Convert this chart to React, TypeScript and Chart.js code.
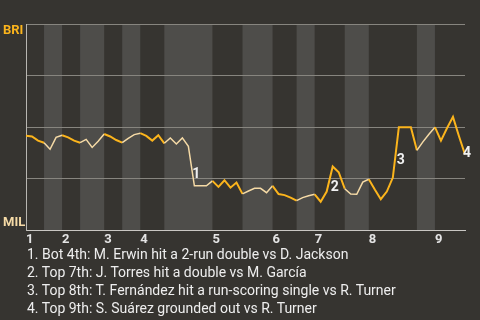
import React, { useEffect, useRef } from "react";
import { Chart, registerables } from "chart.js";

Chart.register(...registerables);

// BRI win probability (%) after each plate appearance (index 0 = game start)
const briWinProb = [
  45.8, 45.5, 43.5, 42.5, 39.3, 45.1, 46.1, 45.1, 43.5, 42.5,
  44.1, 40.2, 43.2, 46.7, 45.5, 43.8, 42.5, 44.6, 46.4, 47.1,
  45.8, 43.5, 46.1, 42.2, 44.8, 41.9, 44.8, 40.7, 21.6, 21.6,
  21.6, 24.0, 21.1, 24.3, 20.7, 23.2, 17.7, 19.1, 20.4, 20.4,
  18.3, 21.6, 17.6, 17.1, 15.9, 14.4, 15.9, 16.8, 17.5, 13.9,
  18.8, 31.0, 28.2, 20.2, 17.6, 17.5, 23.4, 24.8, 19.8, 15.1,
  18.8, 25.6, 50.0, 50.0, 50.0, 38.8, 42.9, 46.6, 50.0, 43.5,
  49.5, 55.0, 45.6, 36.8,
];

// index of the last plate appearance of each half-inning (top 1st, bottom 1st, ...)
const halfInningEnds = [3, 6, 9, 13, 16, 19, 23, 31, 36, 41, 45, 48, 53, 57, 65, 68, 73];

// index where each inning starts, and its label
const inningStarts = [0, 6, 13, 19, 31, 41, 48, 57, 68];
const inningLabels = ["1", "2", "3", "4", "5", "6", "7", "8", "9"];

// key events: index of the plate appearance and its marker
const eventIndices = [28, 51, 62, 73];
const eventLabels = ["1", "2", "3", "4"];

const eventNotes = [
  "1. Bot 4th: M. Erwin hit a 2-run double vs D. Jackson",
  "2. Top 7th: J. Torres hit a double vs M. García",
  "3. Top 8th: T. Fernández hit a run-scoring single vs R. Turner",
  "4. Top 9th: S. Suárez grounded out vs R. Turner",
];

const teamTop = "BRI";
const teamBottom = "MIL";

const FONT = "Roboto, 'Noto Sans', sans-serif";
const BG = "#363430";
const BAND = "#4e4d4a";
const ORANGE = "#fbb41c";
const PALE = "#f5daa6";

function halfIndexOf(i: number): number {
  for (let h = 0; h < halfInningEnds.length; h++) {
    if (i <= halfInningEnds[h]) return h;
  }
  return halfInningEnds.length - 1;
}

const bandsPlugin = {
  id: "bands",
  beforeDraw(chart: any) {
    const { ctx, chartArea, scales } = chart;
    const xs = scales.x;
    ctx.save();
    ctx.fillStyle = BG;
    ctx.fillRect(0, 0, chart.width, chart.height);
    ctx.fillStyle = BAND;
    for (let h = 1; h < halfInningEnds.length; h += 2) {
      const x0 = xs.getPixelForValue(halfInningEnds[h - 1]);
      const x1 = xs.getPixelForValue(halfInningEnds[h]);
      ctx.fillRect(x0, chartArea.top, x1 - x0, chartArea.bottom - chartArea.top);
    }
    ctx.restore();
  },
  afterDatasetsDraw(chart: any) {
    const { ctx, chartArea, scales } = chart;
    const xs = scales.x;
    const ys = scales.y;
    ctx.save();
    ctx.font = `bold 14px ${FONT}`;
    ctx.fillStyle = "#f0f0f0";
    ctx.textAlign = "center";
    ctx.textBaseline = "middle";
    eventIndices.forEach((idx, k) => {
      const xa = xs.getPixelForValue(idx - 1);
      const ya = ys.getPixelForValue(briWinProb[idx - 1]);
      const xb = xs.getPixelForValue(idx);
      const yb = ys.getPixelForValue(briWinProb[idx]);
      ctx.fillText(eventLabels[k], (xa + xb) / 2 + 5, (ya + yb) / 2 + 8);
    });
    ctx.font = `bold 13px ${FONT}`;
    ctx.textAlign = "left";
    ctx.fillStyle = ORANGE;
    ctx.fillText(teamTop, 3, chartArea.top + 7);
    ctx.fillStyle = PALE;
    ctx.fillText(teamBottom, 3, chartArea.bottom - 7.5);
    ctx.restore();
  },
};

export default function App() {
  const ref = useRef<HTMLCanvasElement | null>(null);

  useEffect(() => {
    document.body.style.margin = "0";
    document.body.style.background = BG;
    const canvas = ref.current;
    if (!canvas) return;
    const chart = new Chart(canvas, {
      type: "line",
      data: {
        datasets: [
          {
            data: briWinProb.map((v, i) => ({ x: i, y: v })),
            borderColor: ORANGE,
            borderWidth: 2,
            pointRadius: 0,
            tension: 0,
            fill: false,
            segment: {
              borderColor: (c: any) => (halfIndexOf(c.p1DataIndex) % 2 === 0 ? ORANGE : PALE),
              borderWidth: (c: any) => (halfIndexOf(c.p1DataIndex) % 2 === 0 ? 2 : 1.5),
            },
          },
        ],
      },
      options: {
        animation: false,
        responsive: false,
        devicePixelRatio: 1,
        layout: { padding: { left: 26, right: 15, top: 24, bottom: 0 } },
        plugins: { legend: { display: false }, tooltip: { enabled: false } },
        scales: {
          x: {
            type: "linear",
            min: 0,
            max: briWinProb.length - 1,
            grid: { display: false, drawTicks: false },
            border: { display: true, color: "#c9c7c3", width: 1 },
            afterBuildTicks: (scale: any) => {
              scale.ticks = inningStarts.map((v) => ({ value: v }));
            },
            ticks: {
              autoSkip: false,
              maxRotation: 0,
              align: "start",
              padding: 2,
              color: "#e4e4e4",
              font: { family: FONT, size: 13, weight: "bold" },
              callback: (v: any) => inningLabels[inningStarts.indexOf(Number(v))] ?? "",
            },
          },
          y: {
            min: 0,
            max: 100,
            ticks: { display: false, stepSize: 25 },
            grid: { color: "#87857f", lineWidth: 1, drawTicks: false },
            border: { display: true, color: "#b8b6b1", width: 1 },
          },
        },
      },
      plugins: [bandsPlugin],
    });
    return () => chart.destroy();
  }, []);

  return (
    <div style={{ position: "relative", width: 480, height: 320, background: BG, overflow: "hidden" }}>
      <canvas ref={ref} width={480} height={250} style={{ position: "absolute", left: 0, top: 0 }} />
      <div
        style={{
          position: "absolute",
          left: 27,
          top: 245,
          fontFamily: FONT,
          fontSize: 14,
          lineHeight: "18px",
          color: "#eeeeee",
          whiteSpace: "nowrap",
        }}
      >
        {eventNotes.map((n, i) => (
          <div key={i}>{n}</div>
        ))}
      </div>
    </div>
  );
}
